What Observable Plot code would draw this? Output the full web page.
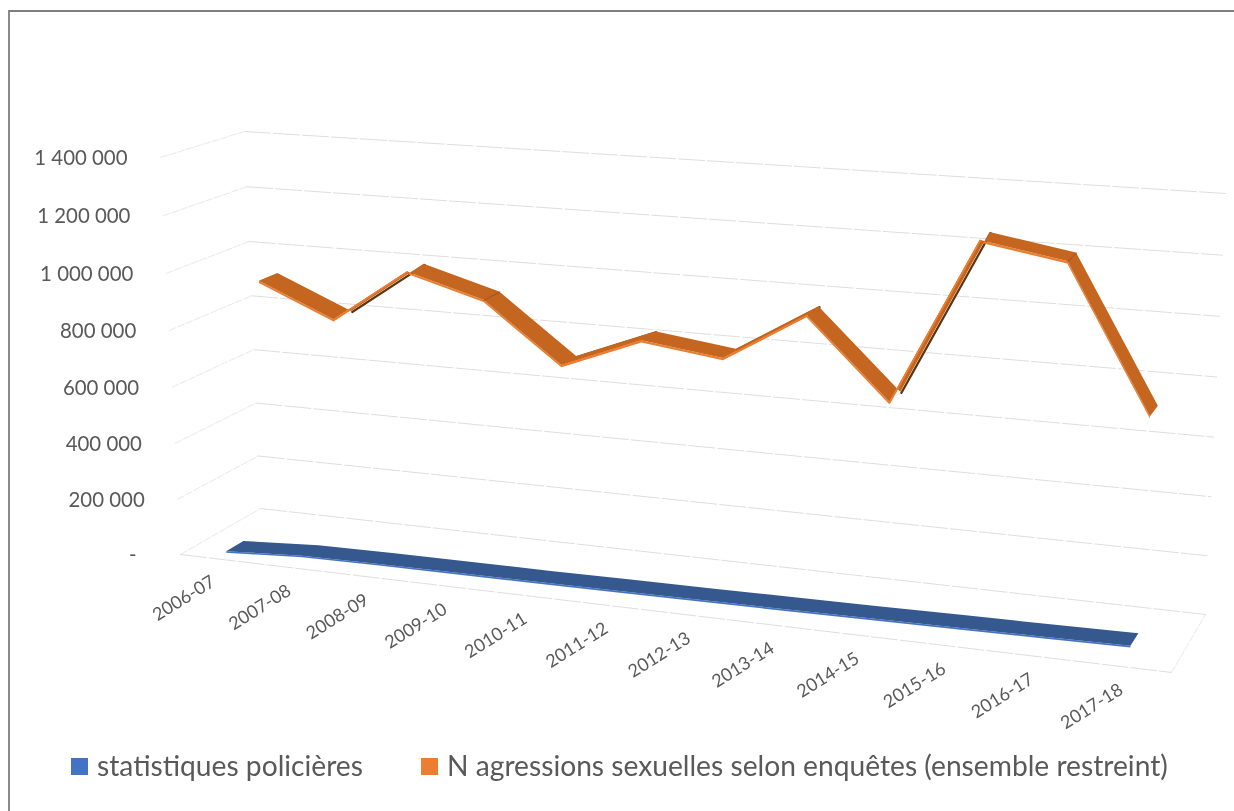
<!DOCTYPE html>
<html lang="fr">
<head>
<meta charset="utf-8">
<script src="https://cdn.jsdelivr.net/npm/d3@7"></script>
<script src="https://cdn.jsdelivr.net/npm/@observablehq/plot@0.6"></script>
<style>
  html, body { margin: 0; padding: 0; background: #fff; }
  #page { position: relative; width: 1234px; height: 811px; overflow: hidden; font-family: Lato, sans-serif; }
  #frame { position: absolute; left: 8px; top: 10px; width: 1300px; height: 900px; border-left: 2px solid #8a8a8a; border-top: 2px solid #7f7f7f; }
  #chart { position: absolute; left: 0; top: 0; }
  #chart svg { display: block; background: transparent; filter: blur(0.35px); }
  #legend { position: absolute; left: 0; top: 745px; width: 1234px; height: 50px; color: #595959; font-size: 28.2px; filter: blur(0.3px); }
  #legend .sw { position: absolute; top: 13px; width: 17px; height: 17px; }
  #legend .tx { position: absolute; top: 2px; white-space: nowrap; line-height: 36px; }
</style>
</head>
<body>
<div id="page">
  <div id="frame"></div>
  <div id="chart"></div>
  <div id="legend"></div>
</div>
<script>
const categories = ["2006-07","2007-08","2008-09","2009-10","2010-11","2011-12","2012-13","2013-14","2014-15","2015-16","2016-17","2017-18"];
const policeStats = [8000, 24000, 27000, 28000, 29000, 31000, 33000, 35000, 38000, 41000, 44000, 48000];
const surveyAssaults = [904000, 789000, 981000, 904000, 699000, 810000, 773000, 943000, 674000, 1235000, 1187000, 704000];
const valueTicks = [0, 200000, 400000, 600000, 800000, 1000000, 1200000, 1400000];
const tickLabels = ["-", "200 000", "400 000", "600 000", "800 000", "1 000 000", "1 200 000", "1 400 000"];
const seriesNames = ["statistiques policières", "N agressions sexuelles selon enquêtes (ensemble restreint)"];
const seriesColors = ["#4472C4", "#ED7D31"];

const W = 1234, H = 745, VMAX = 1400000;
// 3D view of the chart box: eight corners of the box seen by the camera
const box = {
  f0: [[180, 554], [1171, 672]], f1: [[160, 157], [1195, 227]],
  b0: [[260, 508], [1205, 614]], b1: [[244, 131], [1225, 193]]
};
const persp = (t, r) => t / (t + r * (1 - t));
const mix = (a, b, t) => [a[0] + (b[0] - a[0]) * t, a[1] + (b[1] - a[1]) * t];
function project(u, value, depth) {
  const U = persp(u, 1.1), V = persp(value / VMAX, 1.03);
  const front = mix(mix(box.f0[0], box.f0[1], U), mix(box.f1[0], box.f1[1], U), V);
  const back = mix(mix(box.b0[0], box.b0[1], U), mix(box.b1[0], box.b1[1], U), V);
  return mix(front, back, depth);
}
const catU = i => (i + 0.5) / categories.length;

// each series sits on its own depth row; the rear row is seen slightly further left
const rowShift = {police: () => 0, survey: i => -2 - 8 * Math.min(1, i / 4)};
const pt = (row, i, v, d) => {
  const p = project(catU(i), v, d);
  return [p[0] + rowShift[row](i), p[1]];
};
const rows = values => values.map((v, i) => ({i, v, c: categories[i]}));
const police = rows(policeStats), survey = rows(surveyAssaults);

function ribbon(row, data, d1, d2, fill) {
  return Plot.area(data, {
    x1: r => pt(row, r.i, r.v, d1)[0], y1: r => pt(row, r.i, r.v, d1)[1],
    x2: r => pt(row, r.i, r.v, d2)[0], y2: r => pt(row, r.i, r.v, d2)[1],
    fill
  });
}
function sideBand(row, data, d, thick, fill) {
  return Plot.area(data, {
    x1: r => pt(row, r.i, r.v, d)[0], y1: r => pt(row, r.i, r.v, d)[1],
    x2: r => pt(row, r.i, r.v - thick, d)[0], y2: r => pt(row, r.i, r.v - thick, d)[1],
    fill
  });
}
const D_POLICE = [0.11, 0.33], D_SURVEY = [0.68, 0.91];
// rising stretches of the survey series show the dark back side of the ribbon
const risingPairs = survey.slice(1).flatMap((r, k) => r.v > survey[k].v ? [{...survey[k], seg: k}, {...r, seg: k}] : []);
// folds where the ribbon keeps falling through a category
const folds = survey.filter((r, k) => k > 0 && k < survey.length - 1 && survey[k - 1].v > r.v && r.v > survey[k + 1].v)
  .flatMap(r => [{...r, d: D_SURVEY[0]}, {...r, d: D_SURVEY[1]}]);

const gridBack = valueTicks.flatMap(v => [{v, u: 0}, {v, u: 1}]);
const gridSide = valueTicks.flatMap(v => [{v, d: 0}, {v, d: 1}]);
const floorFront = [{u: 0}, {u: 1}];
const floorSide = [{d: 0}, {d: 1}];
const tickRows = valueTicks.map((v, k) => ({v, label: tickLabels[k]}));
const textStyle = {fill: "#595959", fontFamily: "Lato, sans-serif"};

const plot = Plot.plot({
  width: W, height: H,
  margin: 0,
  style: {background: "transparent", overflow: "visible"},
  x: {domain: [0, W], range: [0, W], axis: null},
  y: {domain: [0, H], range: [0, H], axis: null},
  marks: [
    Plot.line(gridSide, {z: "v", x: r => project(0, r.v, r.d)[0], y: r => project(0, r.v, r.d)[1], stroke: "#e8e8e8", strokeWidth: 1, strokeDasharray: "7 2"}),
    Plot.line(gridBack, {z: "v", x: r => project(r.u, r.v, 1)[0], y: r => project(r.u, r.v, 1)[1], stroke: "#dedede", strokeWidth: 1, strokeDasharray: "26 3"}),
    Plot.line(floorFront, {x: r => project(r.u, 0, 0)[0], y: r => project(r.u, 0, 0)[1], stroke: "#dedede", strokeWidth: 1, strokeDasharray: "26 3"}),
    Plot.line(floorSide, {x: r => project(1, 0, r.d)[0], y: r => project(1, 0, r.d)[1], stroke: "#e8e8e8", strokeWidth: 1, strokeDasharray: "7 2"}),
    sideBand("police", police, D_POLICE[0], 6000, seriesColors[0]),
    ribbon("police", police, D_POLICE[0], D_POLICE[1], "#35588F"),
    Plot.line(risingPairs, {z: "seg", x: r => pt("survey", r.i, r.v, D_SURVEY[1])[0], y: r => pt("survey", r.i, r.v, D_SURVEY[1])[1], stroke: "#5e3413", strokeWidth: 2.2, dx: 0.6, dy: 0.6}),
    sideBand("survey", survey, D_SURVEY[0], 8000, seriesColors[1]),
    ribbon("survey", survey, D_SURVEY[0], D_SURVEY[1], "#C4661F"),
    Plot.line(folds, {z: "i", x: r => pt("survey", r.i, r.v, r.d)[0], y: r => pt("survey", r.i, r.v, r.d)[1], stroke: "#9c5520", strokeWidth: 1}),
    Plot.line(risingPairs, {z: "seg", x: r => pt("survey", r.i, r.v, D_SURVEY[0])[0], y: r => pt("survey", r.i, r.v, D_SURVEY[0])[1], stroke: seriesColors[1], strokeWidth: 1.8}),
    Plot.text(tickRows.filter(r => r.v > 0), {
      x: r => project(0, r.v, 0)[0], y: r => project(0, r.v, 0)[1], text: "label",
      textAnchor: "end", dx: -33, dy: 1, fontSize: 20.4, ...textStyle
    }),
    Plot.text(tickRows.filter(r => r.v === 0), {
      x: r => project(0, r.v, 0)[0], y: r => project(0, r.v, 0)[1], text: "label",
      textAnchor: "end", dx: -44, dy: 1, fontSize: 20.4, ...textStyle
    }),
    Plot.text(police, {
      x: r => project(catU(r.i), 0, 0)[0], y: r => project(catU(r.i), 0, 0)[1], text: "c",
      rotate: -32, textAnchor: "end", dx: -5, dy: 21, fontSize: 18, ...textStyle
    })
  ]
});
document.getElementById("chart").append(plot);

const legend = document.getElementById("legend");
[[71, 97], [421, 447]].forEach(([sx, tx], k) => {
  const s = document.createElement("div");
  s.className = "sw"; s.style.left = sx + "px"; s.style.background = seriesColors[k];
  const t = document.createElement("div");
  t.className = "tx"; t.style.left = tx + "px"; t.textContent = seriesNames[k];
  legend.append(s, t);
});
</script>
</body>
</html>
